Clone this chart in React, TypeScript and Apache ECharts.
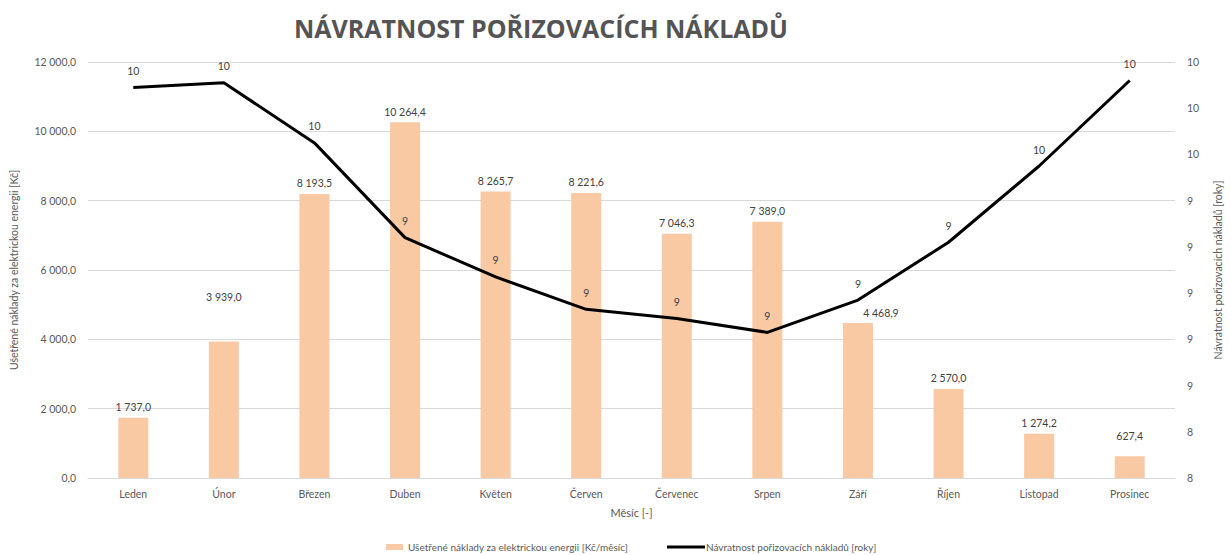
import React, { useEffect, useRef } from "react";
import * as echarts from "echarts";

const months = ["Leden", "Únor", "Březen", "Duben", "Květen", "Červen", "Červenec", "Srpen", "Září", "Říjen", "Listopad", "Prosinec"];
const savings = [1737.0, 3939.0, 8193.5, 10264.4, 8265.7, 8221.6, 7046.3, 7389.0, 4468.9, 2570.0, 1274.2, 627.4];
const payback = [9.89, 9.91, 9.65, 9.24, 9.07, 8.93, 8.89, 8.83, 8.97, 9.22, 9.55, 9.92];

const barName = "Ušetřené náklady za elektrickou energii [Kč/měsíc]";
const lineName = "Návratnost pořizovacích nákladů [roky]";
const leftAxisName = "Ušetřené náklady za elektrickou energii [Kč]";
const xAxisName = "Měsíc [-]";
const titleText = "NÁVRATNOST POŘIZOVACÍCH NÁKLADŮ";

// label position tweaks (styling only)
const barLabelOffsets: Record<number, [number, number]> = { 1: [0, -34], 8: [23, 0], 11: [0, -10] };
const lineLabelOffsets: Record<number, [number, number]> = { 1: [9, -1] };

const fmt = (v: number) => {
  const [i, d] = v.toFixed(1).split(".");
  return i.replace(/\B(?=(\d{3})+(?!\d))/g, " ") + "," + d;
};

const FONT = "Lato, 'Open Sans', sans-serif";
const TXT = "#595959";

export default function App() {
  const ref = useRef<HTMLDivElement>(null);
  useEffect(() => {
    document.body.style.margin = "0";
    const chart = echarts.init(ref.current!, null, { renderer: "svg" });
    chart.setOption({
      animation: false,
      backgroundColor: "#ffffff",
      textStyle: { fontFamily: FONT },
      title: {
        text: titleText,
        left: 289,
        top: 10,
        textStyle: { fontFamily: "'Open Sans', sans-serif", fontWeight: 700, fontSize: 25, color: "#545454" },
      },
      legend: [
        {
          data: [{ name: barName, icon: "rect" }],
          left: 381,
          top: 537,
          itemWidth: 17,
          itemHeight: 6,
          itemGap: 4,
          textStyle: { fontSize: 10, color: TXT, fontFamily: FONT },
        },
        {
          data: [{ name: lineName, icon: "rect", itemStyle: { color: "#000" } }],
          left: 662,
          top: 537,
          itemWidth: 38,
          itemHeight: 3,
          textStyle: { fontSize: 10, color: TXT, fontFamily: FONT, padding: [0, 0, 0, -4] },
        },
      ],
      grid: { left: 83, right: 38, top: 62, bottom: 77, containLabel: false },
      xAxis: {
        type: "category",
        data: months,
        name: xAxisName,
        nameLocation: "middle",
        nameGap: 29,
        nameTextStyle: { fontSize: 11, color: TXT },
        axisLine: { lineStyle: { color: "#D9D9D9" } },
        axisTick: { show: false },
        axisLabel: { fontSize: 10.5, color: TXT, margin: 10 },
      },
      yAxis: [
        {
          type: "value",
          min: 0,
          max: 12000,
          interval: 2000,
          name: leftAxisName,
          nameLocation: "middle",
          nameGap: 69,
          nameTextStyle: { fontSize: 10.5, color: TXT },
          axisLabel: { formatter: (v: number) => fmt(v), fontSize: 10.5, color: TXT, margin: 12 },
          splitLine: { lineStyle: { color: "#D9D9D9" } },
          axisLine: { show: false },
          axisTick: { show: false },
        },
        {
          type: "value",
          min: 8.2,
          max: 10.0,
          interval: 0.2,
          name: lineName,
          nameLocation: "middle",
          nameGap: 37,
          nameTextStyle: { fontSize: 10.5, color: TXT },
          axisLabel: { formatter: (v: number) => String(Math.round(v)), fontSize: 10.5, color: TXT, margin: 12 },
          splitLine: { show: false },
          axisLine: { show: false },
          axisTick: { show: false },
        },
      ],
      series: [
        {
          name: barName,
          type: "bar",
          yAxisIndex: 0,
          barWidth: 30,
          itemStyle: { color: "#F9C9A4" },
          data: savings.map((v, i) => (barLabelOffsets[i] ? { value: v, label: { offset: barLabelOffsets[i] } } : v)),
          label: {
            show: true,
            position: "top",
            distance: 5,
            formatter: (p: any) => fmt(p.value),
            fontSize: 10.5,
            color: "#404040",
          },
          z: 1,
        },
        {
          name: lineName,
          type: "line",
          yAxisIndex: 1,
          symbol: "circle",
          symbolSize: 0,
          showSymbol: true,
          lineStyle: { color: "#000000", width: 3 },
          itemStyle: { color: "#000000" },
          data: payback.map((v, i) => (lineLabelOffsets[i] ? { value: v, label: { offset: lineLabelOffsets[i] } } : v)),
          label: {
            show: true,
            position: "top",
            distance: 11,
            formatter: (p: any) => String(Math.round(p.value)),
            fontSize: 10.5,
            color: "#404040",
          },
          labelLayout: { hideOverlap: false },
          z: 3,
        },
      ],
    });
    return () => chart.dispose();
  }, []);
  return <div ref={ref} style={{ position: "fixed", left: 0, top: 0, width: 1231, height: 555 }} />;
}
